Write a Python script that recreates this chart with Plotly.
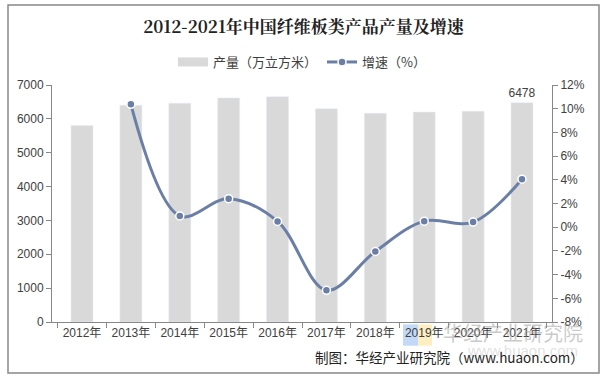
import plotly.graph_objects as go

years = ["2012年", "2013年", "2014年", "2015年", "2016年", "2017年", "2018年", "2019年", "2020年", "2021年"]
output = [5800.46, 6402.10, 6462.63, 6618.53, 6651.22, 6297.00, 6168.05, 6199.61, 6226.00, 6478.00]
growth = [None, 10.37, 0.95, 2.41, 0.49, -5.33, -2.05, 0.51, 0.43, 4.05]
left_ticks = [0, 1000, 2000, 3000, 4000, 5000, 6000, 7000]
right_ticks = [-8, -6, -4, -2, 0, 2, 4, 6, 8, 10, 12]

font = "Noto Sans CJK SC, Arial, sans-serif"

fig = go.Figure()
fig.add_trace(go.Bar(
    x=years, y=output, name="产量（万立方米）", showlegend=False,
    marker=dict(color="#d9d9d9"), width=0.45,
    text=[""] * 9 + ["6478"], textposition="outside", constraintext="none",
    textfont=dict(size=12, color="#404040", family="Arial"),
    cliponaxis=False,
))
# legend proxy for the bar series (wide flat swatch as in the reference)
fig.add_trace(go.Scatter(
    x=[None], y=[None], name="产量（万立方米）", mode="lines",
    line=dict(color="#d9d9d9", width=9),
))
fig.add_trace(go.Scatter(
    x=years, y=growth, name="增速（%）", yaxis="y2",
    mode="lines+markers",
    line=dict(color="#6b7fa6", width=3, shape="spline", smoothing=1.0),
    marker=dict(size=8, color="#6b7fa6", line=dict(color="white", width=1.5)),
    connectgaps=False,
))

fig.update_layout(
    width=607, height=379,
    margin=dict(l=52, r=55, t=85, b=57),
    paper_bgcolor="white", plot_bgcolor="white",
    font=dict(family=font, size=12, color="#404040"),
    title=dict(text="<b>2012-2021年中国纤维板类产品产量及增速</b>", x=0.5, xanchor="center",
               y=0.929, yanchor="middle", font=dict(size=17, color="#222222", family="Noto Serif CJK SC, Noto Sans CJK SC, serif")),
    legend=dict(orientation="h", x=0.5, xanchor="center", y=1.097, yanchor="middle",
                font=dict(size=13, color="#404040"), itemwidth=30, bgcolor="rgba(0,0,0,0)"),
    showlegend=True,
    bargap=0.55,
    xaxis=dict(showline=True, linecolor="#888888", ticks="outside", tickson="boundaries",
               ticklen=5, tickcolor="#888888", tickfont=dict(size=12, family="Arial, Noto Sans CJK SC"),
               showgrid=False),
    yaxis=dict(range=[0, 7000], tickvals=left_ticks, showline=True, linecolor="#888888",
               ticks="outside", ticklen=5, tickcolor="#888888", showgrid=False, zeroline=False,
               tickfont=dict(size=12, family="Arial")),
    yaxis2=dict(range=[-8, 12], tickvals=right_ticks, ticktext=[f"{v}%" for v in right_ticks],
                overlaying="y", side="right", showline=True, linecolor="#888888",
                ticks="outside", ticklen=5, tickcolor="#888888", showgrid=False, zeroline=False,
                tickfont=dict(size=12, family="Arial")),
    shapes=[
        dict(type="rect", xref="paper", yref="paper", x0=-0.088, x1=1.094, y0=-0.215, y1=1.3376,
             line=dict(color="#888888", width=1.5)),
        dict(type="rect", xref="paper", yref="paper", x0=0.702, x1=0.732, y0=-0.01, y1=-0.10,
             line=dict(width=0), fillcolor="rgba(120,170,240,0.45)", layer="below"),
        dict(type="rect", xref="paper", yref="paper", x0=0.732, x1=0.76, y0=-0.01, y1=-0.10,
             line=dict(width=0), fillcolor="rgba(250,220,120,0.45)", layer="below"),
    ],
    annotations=[
        dict(text="华经产业研究院", xref="paper", yref="paper", x=1.066, y=-0.046, xanchor="right",
             yanchor="middle", showarrow=False, font=dict(size=20, color="rgba(150,150,150,0.5)")),
        dict(text="www.huaon.com", xref="paper", yref="paper", x=1.056, y=-0.122, xanchor="right",
             yanchor="middle", showarrow=False, font=dict(size=15, color="rgba(150,150,150,0.3)", family="Arial")),
        dict(text="制图：华经产业研究院（www.huaon.com）", xref="paper", yref="paper", x=1.068, y=-0.148,
             xanchor="right", yanchor="middle", showarrow=False, font=dict(size=13.5, color="#222222")),
    ],
)

fig.write_html("out.html", config={"displayModeBar": False},
               post_script="document.body.style.margin='0px';")
